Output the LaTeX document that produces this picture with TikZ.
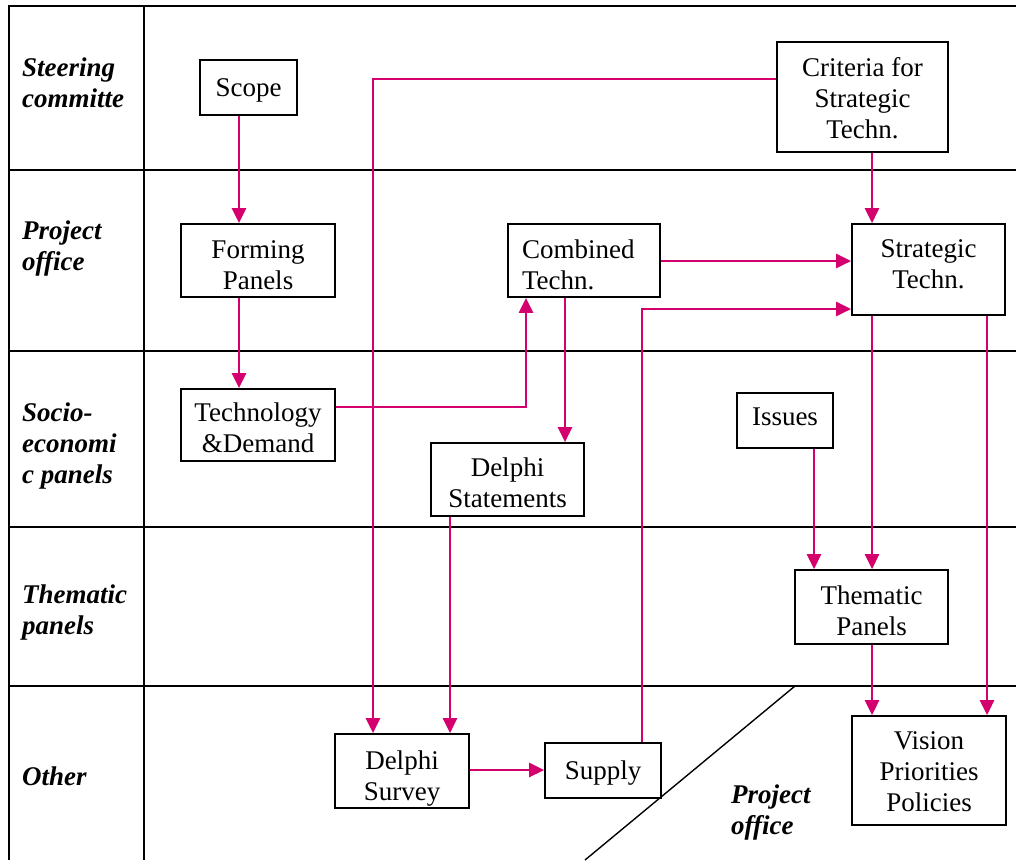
\documentclass[tikz,border=0pt]{standalone}
\usepackage{fontspec}
\setmainfont{Liberation Serif}
\usetikzlibrary{arrows.meta}
\definecolor{flow}{RGB}{212,0,110}
% invisible struts that nudge a box text down (\tallfirst) or up (\deeplast)
\newcommand\tallfirst[1]{\rule{0pt}{#1pt}}
\newcommand\deeplast[1]{\rule[-#1pt]{0pt}{#1pt}}
\begin{document}
\begin{tikzpicture}[x=1pt,y=-1pt,
  grid/.style={line width=1.7pt,black},
  stepbox/.style={draw=black,line width=1.7pt,inner sep=0pt,align=center,
    font=\fontsize{27}{31}\selectfont},
  lane/.style={anchor=west,align=left,inner sep=0pt,
    font=\fontsize{27}{31}\selectfont\bfseries\itshape},
  arr/.style={draw=flow,line width=2.7pt,-{Triangle[length=15pt,width=14pt]}}]
\useasboundingbox (0,0) rectangle (1016,860);

% swimlane grid
\draw[grid] (1016,6) -- (9,6) -- (9,860);
\draw[grid] (144,6) -- (144,860);
\foreach \y in {170,351,527,686} \draw[grid] (9,\y) -- (1016,\y);
\draw[line width=1.4pt] (795,686) -- (585,860);

% lane titles
\node[lane] (l1) at (22,82.5) {Steering\\committe};
\node[lane] (l2) at (22,248.5) {Project\\office};
\node[lane] (l3) at (22,445.5) {Socio-\\economi\\c panels};
\node[lane] (l4) at (22,612.5) {Thematic\\panels};
\node[lane] (l5) at (22,776.5) {Other};
\node[lane] (l6) at (731,812.5) {Project\\office};

% process steps
\node[stepbox,minimum width=97pt,minimum height=55pt] (scope) at (248.5,87.5) {\tallfirst{24.5}Scope};
\node[stepbox,minimum width=154pt,minimum height=73pt] (forming) at (258,260.5) {\tallfirst{28}Forming\\Panels};
\node[stepbox,minimum width=154pt,minimum height=72pt] (techdem) at (258,425) {\tallfirst{24.5}Technology\\\&Demand};
\node[stepbox,minimum width=171pt,minimum height=110pt] (criteria) at (862.5,97) {\tallfirst{20.5}Criteria for\\Strategic\\Techn.};
\node[stepbox,minimum height=73pt,text width=124pt,inner xsep=14pt,align=left] (combined) at (584,260.5) {\tallfirst{28}Combined\\Techn.};
\node[stepbox,minimum width=153pt,minimum height=91pt] (strategic) at (928.5,269.5) {Strategic\\Techn.\deeplast{10}};
\node[stepbox,minimum width=153pt,minimum height=73pt] (delphistat) at (507.5,479.5) {\tallfirst{24.5}Delphi\\Statements};
\node[stepbox,minimum width=96pt,minimum height=55pt] (issues) at (785,420.5) {Issues\deeplast{7}};
\node[stepbox,minimum width=153pt,minimum height=74pt] (thematic) at (871.5,607) {\tallfirst{26.5}Thematic\\Panels};
\node[stepbox,minimum width=134pt,minimum height=74pt] (survey) at (402,771) {\tallfirst{34}Delphi\\Survey};
\node[stepbox,minimum width=116pt,minimum height=55pt] (supply) at (603,770.5) {\tallfirst{24.5}Supply};
\node[stepbox,minimum width=154pt,minimum height=109pt] (vision) at (929,770.5) {\tallfirst{20}Vision\\Priorities\\Policies};

% guide coordinates for the connector tracks
\coordinate (xa) at (239,0);
\coordinate (xb) at (526,0);
\coordinate (xc) at (565,0);
\coordinate (xd) at (373,0);
\coordinate (xe) at (872,0);
\coordinate (xf) at (450,0);
\coordinate (xg) at (642,0);
\coordinate (xh) at (814,0);
\coordinate (xi) at (987,0);
\coordinate (ya) at (0,407);
\coordinate (yb) at (0,261);
\coordinate (yc) at (0,79);
\coordinate (yd) at (0,309);
\coordinate (ye) at (0,770);

% connectors
\draw[arr] (scope.south -| xa) -- (forming.north -| xa);
\draw[arr] (forming.south -| xa) -- (techdem.north -| xa);
\draw[arr] (techdem.east |- ya) -| (combined.south -| xb);
\draw[arr] (combined.south -| xc) -- (delphistat.north -| xc);
\draw[arr] (combined.east |- yb) -- (strategic.west |- yb);
\draw[arr] (criteria.west |- yc) -| (survey.north -| xd);
\draw[arr] (criteria.south -| xe) -- (strategic.north -| xe);
\draw[arr] (delphistat.south -| xf) -- (survey.north -| xf);
\draw[arr] (survey.east |- ye) -- (supply.west |- ye);
\draw[arr] (supply.north -| xg) |- (strategic.west |- yd);
\draw[arr] (issues.south -| xh) -- (thematic.north -| xh);
\draw[arr] (strategic.south -| xe) -- (thematic.north -| xe);
\draw[arr] (thematic.south -| xe) -- (vision.north -| xe);
\draw[arr] (strategic.south -| xi) -- (vision.north -| xi);
\end{tikzpicture}
\end{document}
